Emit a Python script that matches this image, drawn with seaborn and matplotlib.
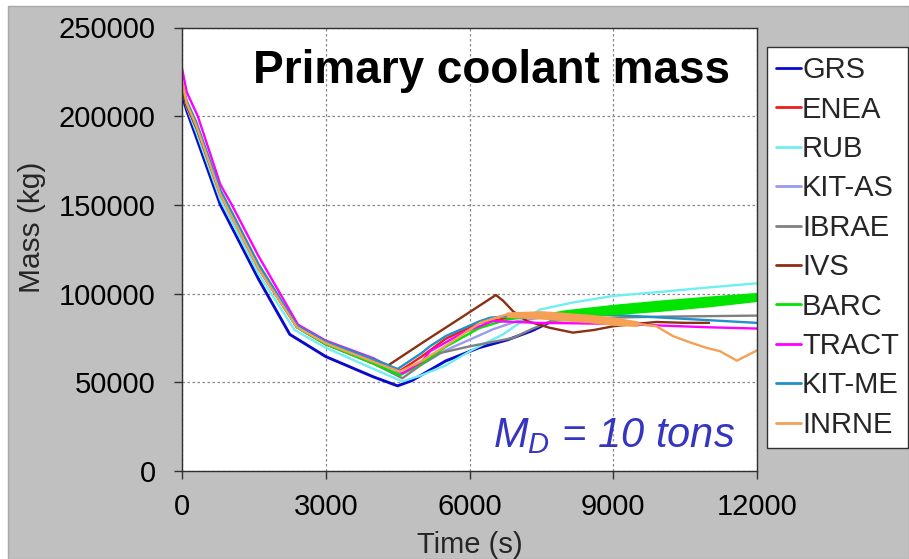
import matplotlib
matplotlib.use("Agg")
import matplotlib.pyplot as plt
from matplotlib.patches import Rectangle
import seaborn as sns
import pandas as pd

# ---------------- data ----------------
names = ["GRS", "ENEA", "RUB", "KIT-AS", "IBRAE", "IVS", "BARC", "TRACT", "KIT-ME", "INRNE"]
colors = ["#0A0ACD", "#EE1C1C", "#70EEF2", "#9A9AEE", "#808080", "#8B3010",
          "#00E400", "#FF00FF", "#2090C8", "#F5A055"]

GRS_t = [0, 100, 300, 800, 1600, 2250, 3000, 4000, 4500, 4800, 5500, 6200, 6800, 7300, 7800, 8300]
GRS_v = [212000, 203000, 188000, 150000, 108000, 77000, 64500, 53000, 48000, 51000, 62000, 69500, 74000, 79000, 85500, 88000]

ENEA_t = [0, 100, 300, 800, 1600, 2400, 3000, 4000, 4550, 5000, 5500, 6200, 7000]
ENEA_v = [218000, 207000, 195000, 157000, 115000, 81500, 72000, 61500, 56500, 64500, 74500, 83500, 87000]

RUB_t = [0, 100, 300, 800, 1600, 2350, 3000, 4000, 4600, 5000, 5500, 6080, 6700, 7100, 7470, 8160, 9000, 10000, 11000, 12000]
RUB_v = [216000, 205000, 191000, 153000, 111000, 79500, 69500, 57500, 50500, 54000, 59500, 68600, 77000, 84500, 91000, 95000, 98700, 101000, 103500, 105800]

KITAS_t = [0, 100, 300, 800, 1600, 2400, 3000, 4000, 4550, 5000, 5500, 6500, 7000, 7500, 8500]
KITAS_v = [217000, 206500, 194000, 156500, 114500, 81000, 71500, 60500, 54500, 60000, 68000, 80000, 84500, 86500, 87000]

IBRAE_t = [0, 100, 300, 800, 1600, 2400, 3000, 4000, 4600, 5000, 5380, 6010, 6910, 7300, 7700, 8500, 9000, 10000, 11000, 12000]
IBRAE_v = [217000, 207000, 195000, 157000, 115000, 81000, 71500, 60500, 52300, 60000, 66500, 70300, 75000, 80000, 84500, 86000, 86500, 87000, 87300, 87600]

IVS_t = [0, 100, 300, 800, 1600, 2400, 3000, 4000, 4300, 5000, 5800, 6550, 6700, 6910, 7200, 7680, 8160, 8600, 9000, 9500, 9900, 10500, 11000]
IVS_v = [214000, 205500, 193500, 156000, 114000, 81000, 71500, 61500, 59500, 72000, 86000, 99200, 96000, 90000, 84500, 80700, 78000, 79500, 81600, 83000, 84000, 83500, 83500]

BARC_t = [0, 100, 300, 800, 1600, 2400, 3000, 4000, 4550, 5000, 5500, 6200, 6800, 7580, 8000, 9000, 10000, 11000, 12000]
BARC_v = [218000, 207500, 195000, 157000, 115000, 81000, 71500, 60500, 54000, 60500, 70000, 80500, 85500, 88000, 89000, 91000, 93500, 95500, 98000]
BARC_band_t = [7580, 8000, 9000, 10000, 11000, 12000]
BARC_lo = [87500, 87800, 88500, 90500, 93000, 96000]
BARC_hi = [88500, 90500, 93500, 96000, 98200, 100200]

TRACT_t = [0, 100, 330, 800, 1040, 1600, 2420, 3000, 4000, 4600, 5000, 5175, 5860, 6490, 7000, 7400, 9000, 10000, 11000, 12000]
TRACT_v = [227000, 213500, 200000, 161500, 150000, 121000, 82500, 73500, 63500, 55000, 61500, 67500, 77900, 84500, 84000, 83500, 83000, 82000, 81000, 80300]

KITME_t = [0, 100, 300, 800, 1600, 2400, 3000, 4000, 4500, 5000, 5175, 5500, 6220, 6430, 7000, 8000, 9000, 10000, 11000, 12000]
KITME_v = [219000, 208500, 196500, 158500, 116500, 82000, 73000, 63000, 57500, 66500, 70300, 76000, 84500, 86400, 87800, 88500, 88000, 86500, 85000, 83500]

INRNE_t = [0, 100, 300, 800, 1600, 2400, 3000, 4000, 4550, 5000, 5500, 6220, 6780, 7500, 8000, 8500, 9000, 9500, 9900, 10250, 10600, 10950, 11230, 11580, 12000]
INRNE_v = [220000, 207000, 194500, 156000, 114000, 81000, 72000, 61500, 56000, 62000, 70500, 83500, 88300, 88000, 87000, 86000, 84500, 83000, 81600, 76000, 72500, 69400, 67500, 62200, 68000]
INRNE_band_t = [6780, 7500, 8000, 8500, 9000, 9500]
INRNE_lo = [87000, 86000, 85000, 84000, 82500, 81800]
INRNE_hi = [89300, 90000, 89000, 88000, 86500, 84300]

x_ticks = [0, 3000, 6000, 9000, 12000]
y_ticks = [0, 50000, 100000, 150000, 200000, 250000]

series = {
    "GRS": (GRS_t, GRS_v), "ENEA": (ENEA_t, ENEA_v), "RUB": (RUB_t, RUB_v),
    "KIT-AS": (KITAS_t, KITAS_v), "IBRAE": (IBRAE_t, IBRAE_v), "IVS": (IVS_t, IVS_v),
    "BARC": (BARC_t, BARC_v), "TRACT": (TRACT_t, TRACT_v), "KIT-ME": (KITME_t, KITME_v),
    "INRNE": (INRNE_t, INRNE_v),
}
df = pd.concat([pd.DataFrame({"Time": t, "Mass": v, "Model": n}) for n, (t, v) in series.items()],
               ignore_index=True)

# ---------------- style ----------------
sns.set_theme(style="white")
plt.rcParams["font.family"] = ["Liberation Sans", "DejaVu Sans"]
plt.rcParams["mathtext.fontset"] = "custom"
plt.rcParams["mathtext.it"] = "Liberation Sans:italic"
plt.rcParams["mathtext.rm"] = "Liberation Sans:italic"

W, H = 909, 559
fig = plt.figure(figsize=(W / 100, H / 100), dpi=100, facecolor="white")
fig.patches.append(Rectangle((8 / W, 0), 1 - 8 / W, 1 - 6 / H, transform=fig.transFigure,
                             facecolor="#C0C0C0", edgecolor="#A8A8A8", lw=1, zorder=-10))

ax = fig.add_axes([182 / W, (H - 471) / H, 575 / W, 443.5 / H])
ax.set_facecolor("white")

pal = dict(zip(names, colors))
sns.lineplot(data=df, x="Time", y="Mass", hue="Model", hue_order=names, palette=pal,
             estimator=None, sort=False, linewidth=1.7, ax=ax)
for ln in ax.lines:
    if ln.get_color() in ("#0A0ACD",):
        ln.set_linewidth(2.1)

ax.fill_between(BARC_band_t, BARC_lo, BARC_hi, color=pal["BARC"], lw=1.2, zorder=2.5)
ax.fill_between(INRNE_band_t, INRNE_lo, INRNE_hi, color=pal["INRNE"], lw=1.0, zorder=2.6)

ax.set_xlim(0, 12000)
ax.set_ylim(0, 250000)
ax.set_xticks(x_ticks)
ax.set_yticks(y_ticks)
ax.set_xticklabels([str(v) for v in x_ticks])
ax.set_yticklabels([str(v) for v in y_ticks])
ax.grid(True, color="#888888", linestyle=(0, (2, 2)), linewidth=0.9)
for s in ax.spines.values():
    s.set_color("#303030")
    s.set_linewidth(1.0)
ax.tick_params(axis="both", direction="out", length=6, width=1, color="#303030",
               labelsize=21, labelcolor="black")
ax.tick_params(axis="y", pad=13, left=True)
ax.tick_params(axis="x", pad=10, bottom=True)

ax.set_xlabel("Time (s)", fontsize=21, labelpad=7)
ax.set_ylabel("Mass (kg)", fontsize=21.5)
ax.yaxis.set_label_coords(-0.236, 0.55)

ax.text(0.953, 0.875, "Primary coolant mass", transform=ax.transAxes, ha="right",
        va="baseline", fontsize=33, fontweight="bold", color="black")
ax.text(0.962, 0.054, r"$M_D$ = 10 tons", transform=ax.transAxes, ha="right",
        va="baseline", fontsize=30, style="italic", color="#3535C0")

handles, labels = ax.get_legend_handles_labels()
leg = ax.legend(handles, labels, loc="upper left", bbox_to_anchor=(767 / W, 1 - 47 / H),
                bbox_transform=fig.transFigure, borderaxespad=0, frameon=True, fancybox=False,
                framealpha=1.0, fontsize=21, handlelength=0.85, handletextpad=0.03,
                borderpad=0.32, labelspacing=0.39)
leg.get_frame().set_edgecolor("#303030")
leg.get_frame().set_linewidth(1.0)
leg.get_frame().set_facecolor("white")
for h in leg.get_lines():
    h.set_linewidth(2.0)

fig.savefig("out.png", dpi=100, facecolor=fig.get_facecolor())
